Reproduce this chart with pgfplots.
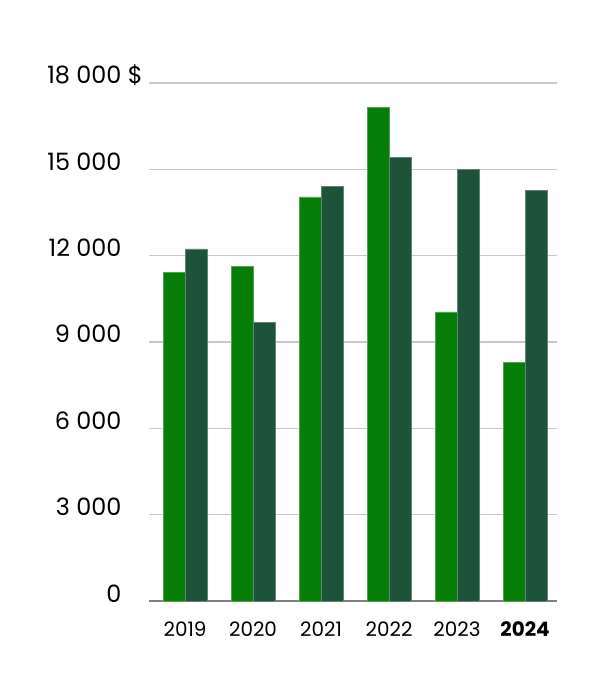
\documentclass[border=0pt]{standalone}
\usepackage{pgfplots}
\pgfplotsset{compat=1.18}
\usepackage{fontspec}
\setmainfont{Poppins}
\definecolor{barA}{HTML}{067D06}
\definecolor{barB}{HTML}{1D5439}
\definecolor{gridc}{HTML}{C8C8C8}
\definecolor{basec}{HTML}{808080}
\begin{document}
\begin{tikzpicture}
\begin{axis}[
    scale only axis,
    width=408bp, height=518bp,
    at={(0,0)}, anchor=south west,
    xmin=-0.53, xmax=5.47,
    ymin=0, ymax=18000,
    scaled y ticks=false,
    ybar=0pt, bar width=22bp,
    axis line style={draw=none},
    major tick length=0pt,
    xtick={0,1,2,3,4,5},
    xticklabels={2019,2020,2021,2022,2023,\textbf{2024}},
    xticklabel style={font=\fontsize{20}{24}\selectfont, yshift=-17bp},
    ytick={3000,6000,9000,12000,15000,18000},
    yticklabels={3 000,6 000,9 000,12 000,15 000,18 000\rlap{ \$}},
    extra y ticks={0},
    extra y tick labels={0},
    extra y tick style={grid style={basec, line width=1.5bp}},
    yticklabel style={font=\fontsize{24}{28}\selectfont, anchor=base east, xshift=-24bp, yshift=-1bp},
    ymajorgrids=true,
    grid style={gridc, line width=1.2bp},
    clip=false,
]
\addplot[fill=barA, draw=barA!70!white, line width=0.5bp] coordinates {
    (0,11410) (1,11620) (2,14040) (3,17160) (4,10050) (5,8290)};
\addplot[fill=barB, draw=barB!70!white, line width=0.5bp] coordinates {
    (0,12240) (1,9680) (2,14400) (3,15420) (4,14990) (5,14270)};
\end{axis}
\path[use as bounding box] (-149bp,-99bp) rectangle (451bp,601bp);
\end{tikzpicture}
\end{document}
